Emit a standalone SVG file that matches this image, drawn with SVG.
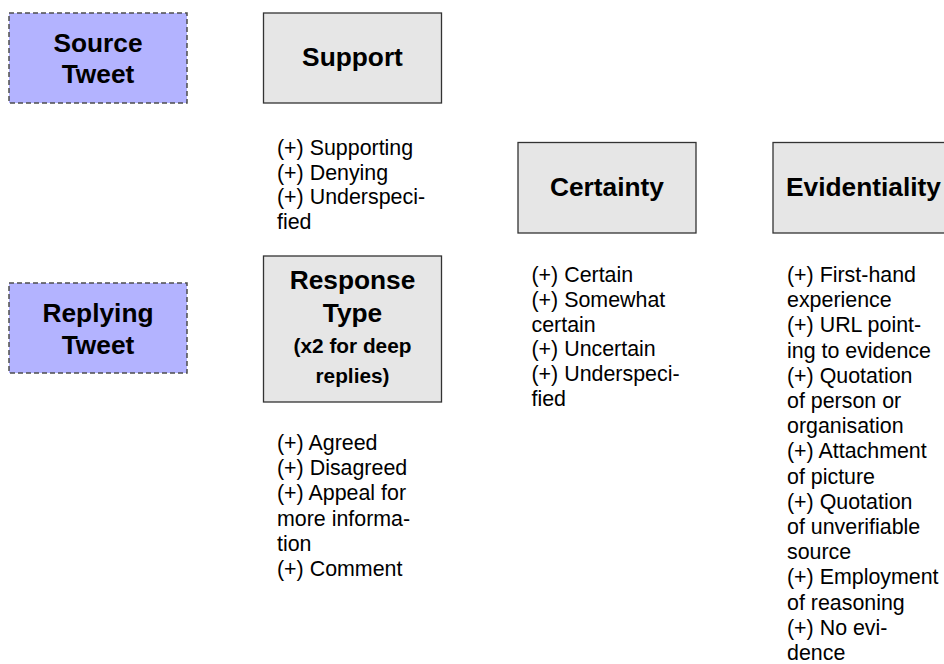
<svg xmlns="http://www.w3.org/2000/svg" width="944" height="664" viewBox="0 0 944 664">
<style>
.tw{fill:#b3b3ff;stroke:#4d4d4d;stroke-width:1.5;stroke-dasharray:5,3}
.cat{fill:#e6e6e6;stroke:#333333;stroke-width:1.3}
.t{font-family:"Liberation Sans",Arial,Helvetica,sans-serif;font-weight:bold;font-size:26.3px;fill:#000;text-anchor:middle}
.s{font-family:"Liberation Sans",Arial,Helvetica,sans-serif;font-weight:bold;font-size:20.8px;fill:#000;text-anchor:middle}
.l{font-family:"Liberation Sans",Arial,Helvetica,sans-serif;font-size:21.4px;fill:#000}
</style>
<rect width="944" height="664" fill="#ffffff"/>
<g id="source-tweet">
<rect class="tw" x="9" y="13" width="178" height="90"/>
<text class="t" x="98" y="51.7">Source</text>
<text class="t" x="98" y="83.3">Tweet</text>
</g>
<g id="replying-tweet">
<rect class="tw" x="9" y="283" width="178" height="90"/>
<text class="t" x="98" y="322">Replying</text>
<text class="t" x="98" y="353.6">Tweet</text>
</g>
<g id="support">
<rect class="cat" x="263.5" y="13" width="178" height="90"/>
<text class="t" x="352.5" y="65.5">Support</text>
</g>
<g id="support-values">
<text class="l" x="277" y="155">(+) Supporting</text>
<text class="l" x="277" y="179.5">(+) Denying</text>
<text class="l" x="277" y="204">(+) Underspeci-</text>
<text class="l" x="277" y="228.5">fied</text>
</g>
<g id="response-type">
<rect class="cat" x="263.5" y="256" width="178" height="146"/>
<text class="t" x="352.5" y="288.6">Response</text>
<text class="t" x="352.5" y="321.5">Type</text>
<text class="s" x="352.5" y="352.7">(x2 for deep</text>
<text class="s" x="352.5" y="383.3">replies)</text>
</g>
<g id="response-values">
<text class="l" x="277" y="450">(+) Agreed</text>
<text class="l" x="277" y="475.2">(+) Disagreed</text>
<text class="l" x="277" y="500.4">(+) Appeal for</text>
<text class="l" x="277" y="525.6">more informa-</text>
<text class="l" x="277" y="550.8">tion</text>
<text class="l" x="277" y="576">(+) Comment</text>
</g>
<g id="certainty">
<rect class="cat" x="518" y="142.5" width="178" height="90.5"/>
<text class="t" x="607" y="196">Certainty</text>
</g>
<g id="certainty-values">
<text class="l" x="531.5" y="281.7">(+) Certain</text>
<text class="l" x="531.5" y="306.6">(+) Somewhat</text>
<text class="l" x="531.5" y="331.5">certain</text>
<text class="l" x="531.5" y="356.4">(+) Uncertain</text>
<text class="l" x="531.5" y="381.3">(+) Underspeci-</text>
<text class="l" x="531.5" y="406.2">fied</text>
</g>
<g id="evidentiality">
<rect class="cat" x="773" y="142.5" width="178" height="90.5"/>
<text class="t" x="863.5" y="196">Evidentiality</text>
</g>
<g id="evidentiality-values">
<text class="l" x="787" y="282">(+) First-hand</text>
<text class="l" x="787" y="307.2">experience</text>
<text class="l" x="787" y="332.4">(+) URL point-</text>
<text class="l" x="787" y="357.6">ing to evidence</text>
<text class="l" x="787" y="382.8">(+) Quotation</text>
<text class="l" x="787" y="408">of person or</text>
<text class="l" x="787" y="433.2">organisation</text>
<text class="l" x="787" y="458.4">(+) Attachment</text>
<text class="l" x="787" y="483.6">of picture</text>
<text class="l" x="787" y="508.8">(+) Quotation</text>
<text class="l" x="787" y="534">of unverifiable</text>
<text class="l" x="787" y="559.2">source</text>
<text class="l" x="787" y="584.4">(+) Employment</text>
<text class="l" x="787" y="609.6">of reasoning</text>
<text class="l" x="787" y="634.8">(+) No evi-</text>
<text class="l" x="787" y="660">dence</text>
</g>
<g id="connectors"></g>
</svg>
